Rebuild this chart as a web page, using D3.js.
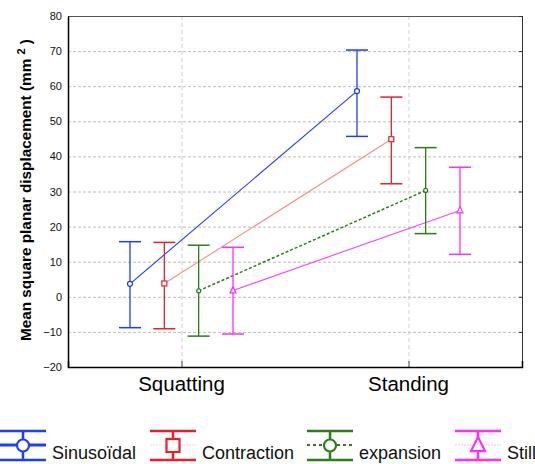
<!DOCTYPE html>
<html>
<head>
<meta charset="utf-8">
<script src="https://cdnjs.cloudflare.com/ajax/libs/d3/7.8.5/d3.min.js"></script>
<style>
  body { margin: 0; background: #fff; }
  text { font-family: "Liberation Sans", Arial, sans-serif; }
</style>
</head>
<body>
<div id="chart"></div>
<script>
/* Chart data */
var categories = ["Squatting", "Standing"];
var seriesNames = ["Sinusoïdal", "Contraction", "expansion", "Still"];
var sinusMean = [3.7, 58.6], sinusHi = [15.7, 70.3], sinusLo = [-8.8, 45.7];
var contrMean = [3.8, 44.9], contrHi = [15.5, 56.9], contrLo = [-9.1, 32.2];
var expanMean = [1.7, 30.3], expanHi = [14.7, 42.5], expanLo = [-11.2, 18.0];
var stillMean = [1.8, 24.6], stillHi = [14.1, 36.9], stillLo = [-10.6, 12.1];
var yTicks = [-20, -10, 0, 10, 20, 30, 40, 50, 60, 70, 80];

var series = [
  {name: seriesNames[0], mean: sinusMean, hi: sinusHi, lo: sinusLo, color: "#1f3dff", line: "#1f3dff", dash: null, marker: "circle"},
  {name: seriesNames[1], mean: contrMean, hi: contrHi, lo: contrLo, color: "#e8202e", line: "#ff8c8c", dash: null, marker: "square"},
  {name: seriesNames[2], mean: expanMean, hi: expanHi, lo: expanLo, color: "#2d7d1c", line: "#2d7d1c", dash: "3,2", marker: "smallcircle"},
  {name: seriesNames[3], mean: stillMean, hi: stillHi, lo: stillLo, color: "#ff2bff", line: "#ff40ff", dash: null, marker: "triangle"}
];

/* Dimensions */
var width = 535, height = 464;
var plot = {left: 68, right: 522, top: 16, bottom: 367};

var svg = d3.select("#chart").append("svg")
    .attr("width", width).attr("height", height);

var x = d3.scalePoint().domain(categories).range([plot.left, plot.right]).padding(0.5);
var off = d3.scalePoint().domain(seriesNames).range([-51.5, 51.5]);
var y = d3.scaleLinear().domain([-20, 80]).range([plot.bottom, plot.top]);

/* Grid lines */
svg.append("g").selectAll("line")
    .data(yTicks.filter(function(d) { return d > -20 && d < 80; }))
    .enter().append("line")
    .attr("x1", plot.left).attr("x2", plot.right)
    .attr("y1", function(d) { return y(d) + 0.5; })
    .attr("y2", function(d) { return y(d) + 0.5; })
    .attr("stroke", "#bdbdbd").attr("stroke-dasharray", "3,2");

svg.append("g").selectAll("line")
    .data(categories)
    .enter().append("line")
    .attr("x1", function(d) { return x(d) + 0.5; })
    .attr("x2", function(d) { return x(d) + 0.5; })
    .attr("y1", plot.top).attr("y2", plot.bottom)
    .attr("stroke", "#cfcfcf").attr("stroke-dasharray", "4,3");

/* Frame */
svg.append("line").attr("x1", plot.left).attr("x2", plot.right)
    .attr("y1", plot.top + 0.5).attr("y2", plot.top + 0.5).attr("stroke", "#555");
svg.append("line").attr("x1", plot.right + 0.5).attr("x2", plot.right + 0.5)
    .attr("y1", plot.top).attr("y2", plot.bottom).attr("stroke", "#333");

/* Left axis */
var yAxis = svg.append("g")
    .attr("transform", "translate(" + plot.left + ",0)")
    .call(d3.axisLeft(y).tickValues(yTicks).tickSize(0).tickPadding(6));
yAxis.select(".domain").attr("stroke", "#000").attr("stroke-width", 1.5);
yAxis.selectAll("text").style("font-size", "11px").attr("fill", "#111");

/* Right ticks */
var yRight = svg.append("g")
    .attr("transform", "translate(" + plot.right + ",0)")
    .call(d3.axisLeft(y).tickValues(yTicks).tickSize(3).tickFormat(""));
yRight.select(".domain").remove();
yRight.selectAll("line").attr("stroke", "#333");

/* Bottom axis */
var xAxis = svg.append("g")
    .attr("transform", "translate(0," + plot.bottom + ")")
    .call(d3.axisTop(x).tickSize(6).tickFormat(""));
xAxis.select(".domain").attr("stroke", "#000").attr("stroke-width", 1.5);
xAxis.selectAll("line").attr("stroke", "#444");

svg.append("g").selectAll("text")
    .data(categories)
    .enter().append("text")
    .attr("x", function(d) { return x(d); })
    .attr("y", 391)
    .attr("text-anchor", "middle")
    .style("font-size", "20.5px")
    .text(function(d) { return d; });

/* Y title */
var title = svg.append("text")
    .attr("transform", "translate(31,190) rotate(-90)")
    .attr("text-anchor", "middle")
    .style("font-size", "15.3px")
    .style("font-weight", "bold");
title.append("tspan").text("Mean square planar displacement (mm ");
title.append("tspan").attr("dy", -6).style("font-size", "11px").text("2");
title.append("tspan").attr("dy", 6).text(" )");

/* Connecting lines */
series.forEach(function(s) {
  var line = d3.line()
      .x(function(d, i) { return x(categories[i]) + off(s.name); })
      .y(function(d) { return y(d); });
  svg.append("path")
      .datum(s.mean)
      .attr("d", line)
      .attr("fill", "none")
      .attr("stroke", s.line)
      .attr("stroke-width", s.dash ? 1.5 : 1.1)
      .attr("stroke-dasharray", s.dash);
});

/* Markers */
function drawMarker(g, type, color, cx, cy, size, sw) {
  if (type === "circle" || type === "smallcircle") {
    g.append("circle").attr("cx", cx).attr("cy", cy).attr("r", size)
        .attr("fill", "#fff").attr("stroke", color).attr("stroke-width", sw);
  } else if (type === "square") {
    g.append("rect").attr("x", cx - size).attr("y", cy - size)
        .attr("width", size * 2).attr("height", size * 2)
        .attr("fill", "#fff").attr("stroke", color).attr("stroke-width", sw);
  } else if (type === "triangle") {
    g.append("path")
        .attr("d", "M" + cx + "," + (cy - size * 1.2) + "L" + (cx + size) + "," + (cy + size * 0.8) + "L" + (cx - size) + "," + (cy + size * 0.8) + "Z")
        .attr("fill", "#fff").attr("stroke", color).attr("stroke-width", sw);
  }
}

/* Error bars */
var capHalf = 11;
series.forEach(function(s) {
  var g = svg.append("g");
  categories.forEach(function(c, i) {
    var cx = x(c) + off(s.name);
    g.append("line").attr("x1", cx).attr("x2", cx)
        .attr("y1", y(s.hi[i])).attr("y2", y(s.lo[i]))
        .attr("stroke", s.color).attr("stroke-width", 1.3);
    [s.hi[i], s.lo[i]].forEach(function(v) {
      g.append("line").attr("x1", cx - capHalf).attr("x2", cx + capHalf)
          .attr("y1", y(v)).attr("y2", y(v))
          .attr("stroke", s.color).attr("stroke-width", 1.5);
    });
    var sz = s.marker === "square" ? 2.5 : s.marker === "smallcircle" ? 2 : s.marker === "triangle" ? 3 : 2.5;
    drawMarker(g, s.marker, s.color, cx, y(s.mean[i]), sz, 1.2);
  });
});

/* Legend */
var legendX = [0, 150, 307, 455];
var legend = svg.append("g");
series.forEach(function(s, i) {
  var lx = legendX[i], cx = lx + 23, g = legend.append("g");
  g.append("line").attr("x1", lx).attr("x2", lx + 46).attr("y1", 431).attr("y2", 431)
      .attr("stroke", s.color).attr("stroke-width", 2.5);
  g.append("line").attr("x1", lx).attr("x2", lx + 46).attr("y1", 460).attr("y2", 460)
      .attr("stroke", s.color).attr("stroke-width", 2.5);
  g.append("line").attr("x1", cx).attr("x2", cx).attr("y1", 431).attr("y2", 460)
      .attr("stroke", s.color).attr("stroke-width", 2.5);
  g.append("line").attr("x1", lx).attr("x2", lx + 46).attr("y1", 445).attr("y2", 445)
      .attr("stroke", i === 0 ? s.color : s.line)
      .attr("stroke-width", i === 0 ? 3 : i === 2 ? 2 : 1)
      .attr("stroke-opacity", i === 0 || i === 2 ? 1 : 0.4)
      .attr("stroke-dasharray", i === 2 ? "3,3" : i === 0 ? null : "2,1");
  var sz = s.marker === "square" ? 6.5 : s.marker === "triangle" ? 7 : 6;
  drawMarker(g, s.marker === "smallcircle" ? "circle" : s.marker, s.color, cx, 445.5, sz, 2.2);
  g.append("text").attr("x", lx + 52).attr("y", 459)
      .style("font-size", "18px").attr("fill", "#111")
      .text(s.name);
});
</script>
</body>
</html>
